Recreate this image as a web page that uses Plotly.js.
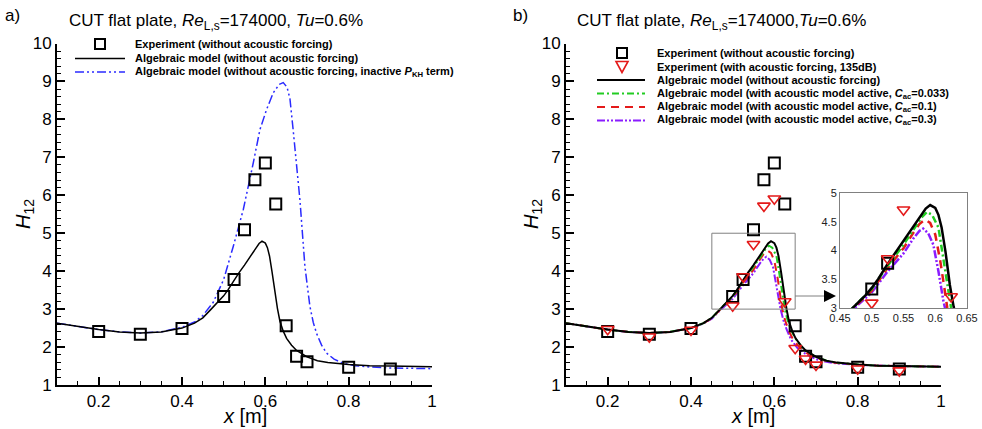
<!DOCTYPE html>
<html>
<head>
<meta charset="utf-8">
<script src="https://cdn.plot.ly/plotly-3.0.1.min.js"></script>
<style>html,body{margin:0;padding:0;background:#fff;}#chart{width:982px;height:429px;}</style>
</head>
<body>
<div id="chart"></div>
<script>
// ---- Experimental data ----
const expX = [0.2, 0.3, 0.4, 0.5, 0.525, 0.55, 0.575, 0.6, 0.625, 0.65, 0.675, 0.7, 0.8, 0.9];
const expNoForcing = [2.41, 2.34, 2.49, 3.33, 3.78, 5.09, 6.41, 6.85, 5.77, 2.56, 1.76, 1.61, 1.47, 1.42];
const expForcing135 = [2.47, 2.27, 2.45, 3.09, 3.86, 4.71, 5.72, 5.91, 3.20, 1.97, 1.69, 1.53, 1.43, 1.38];

// ---- Algebraic model, without acoustic forcing ----
const algX = [0.10, 0.15, 0.20, 0.25, 0.30, 0.35, 0.40, 0.43, 0.45, 0.47, 0.49, 0.50, 0.51, 0.524, 0.537, 0.55, 0.563, 0.576, 0.585, 0.592, 0.600, 0.605, 0.610, 0.616, 0.623, 0.629, 0.635, 0.643, 0.651, 0.663, 0.675, 0.70, 0.725, 0.75, 0.80, 0.85, 0.90, 0.95, 1.00];
const algH = [2.63, 2.54, 2.46, 2.40, 2.37, 2.40, 2.50, 2.63, 2.77, 3.00, 3.22, 3.35, 3.50, 3.75, 3.96, 4.16, 4.37, 4.57, 4.73, 4.79, 4.74, 4.62, 4.40, 3.99, 3.40, 3.02, 2.68, 2.42, 2.23, 2.05, 1.91, 1.74, 1.64, 1.59, 1.54, 1.51, 1.50, 1.49, 1.48];

// ---- Algebraic model, inactive P_KH term ----
const noPkhX = [0.10, 0.15, 0.20, 0.25, 0.30, 0.35, 0.40, 0.43, 0.45, 0.475, 0.50, 0.523, 0.547, 0.571, 0.587, 0.603, 0.619, 0.633, 0.643, 0.652, 0.659, 0.667, 0.675, 0.683, 0.695, 0.707, 0.715, 0.723, 0.735, 0.747, 0.765, 0.787, 0.815, 0.843, 0.90, 1.00];
const noPkhH = [2.63, 2.54, 2.46, 2.40, 2.37, 2.40, 2.52, 2.66, 2.83, 3.18, 3.78, 4.65, 5.62, 6.85, 7.73, 8.26, 8.70, 8.92, 8.97, 8.85, 8.55, 7.70, 6.85, 5.88, 4.12, 3.07, 2.65, 2.36, 2.05, 1.84, 1.68, 1.57, 1.51, 1.48, 1.45, 1.43];

// ---- Algebraic model with acoustic model active ----
const ac033X = [0.10, 0.15, 0.20, 0.25, 0.30, 0.35, 0.40, 0.43, 0.45, 0.47, 0.50, 0.524, 0.55, 0.565, 0.578, 0.587, 0.595, 0.605, 0.613, 0.621, 0.625, 0.632, 0.640, 0.650, 0.663, 0.675, 0.70, 0.725, 0.75, 0.80, 0.85, 0.90, 0.95, 1.00];
const ac033H = [2.63, 2.54, 2.46, 2.40, 2.37, 2.40, 2.50, 2.63, 2.77, 3.00, 3.33, 3.72, 4.10, 4.35, 4.57, 4.67, 4.62, 4.40, 3.87, 3.29, 3.00, 2.70, 2.45, 2.24, 2.04, 1.90, 1.74, 1.64, 1.59, 1.54, 1.51, 1.50, 1.49, 1.48];

const ac01X = [0.10, 0.15, 0.20, 0.25, 0.30, 0.35, 0.40, 0.43, 0.45, 0.47, 0.50, 0.524, 0.55, 0.565, 0.575, 0.584, 0.592, 0.600, 0.608, 0.616, 0.619, 0.626, 0.635, 0.645, 0.660, 0.675, 0.70, 0.725, 0.75, 0.80, 0.85, 0.90, 0.95, 1.00];
const ac01H = [2.63, 2.54, 2.46, 2.40, 2.37, 2.40, 2.50, 2.63, 2.76, 2.99, 3.30, 3.68, 4.04, 4.30, 4.46, 4.54, 4.48, 4.28, 3.81, 3.23, 3.00, 2.70, 2.42, 2.20, 2.00, 1.86, 1.71, 1.63, 1.58, 1.54, 1.51, 1.50, 1.49, 1.48];

const ac03X = [0.10, 0.15, 0.20, 0.25, 0.30, 0.35, 0.40, 0.43, 0.45, 0.47, 0.50, 0.524, 0.55, 0.565, 0.575, 0.581, 0.589, 0.597, 0.605, 0.613, 0.615, 0.622, 0.630, 0.640, 0.655, 0.675, 0.70, 0.725, 0.75, 0.80, 0.85, 0.90, 0.95, 1.00];
const ac03H = [2.63, 2.54, 2.46, 2.40, 2.37, 2.40, 2.50, 2.62, 2.75, 2.97, 3.27, 3.62, 3.95, 4.20, 4.34, 4.38, 4.30, 4.10, 3.64, 3.11, 3.00, 2.70, 2.45, 2.20, 1.98, 1.82, 1.68, 1.61, 1.57, 1.53, 1.51, 1.50, 1.49, 1.48];

// ---- Axis ranges / ticks ----
const xRange = [0.1, 1.0];
const yRange = [1, 10];
const insetX = [0.45, 0.65];
const insetY = [3, 5];

// ---- Styles ----
const FONT = 'Arial, "Liberation Sans", sans-serif';
const C_BLACK = '#000000', C_BLUE = '#2a2aff', C_GREEN = '#22cc22', C_RED = '#e41a1a', C_PURPLE = '#8a1cff';
const D_BLUE = '9px,3px,2px,3px,2px,3px';
const D_GREEN = '7px,3px,2px,3px';
const D_RED = '8px,6px';
const D_PURPLE = '8px,2px,2px,2px,2px,2px';

const W = 982, H = 429;
const px = v => v / W;
const py = v => 1 - v / H;

// keep only the experimental points whose centre lies inside the inset window
function inInset(xs, ys) {
  const ox = [], oy = [];
  xs.forEach((x, i) => {
    if (x >= insetX[0] && x <= insetX[1] && ys[i] >= insetY[0] && ys[i] <= insetY[1]) { ox.push(x); oy.push(ys[i]); }
  });
  return [ox, oy];
}

function line(x, y, color, dash, width, xa, ya) {
  return {x: x, y: y, type: 'scatter', mode: 'lines', xaxis: xa, yaxis: ya, showlegend: false,
          line: {color: color, dash: dash, width: width}, hoverinfo: 'skip'};
}
function sq(xa, ya, inset) {
  const d = inset ? inInset(expX, expNoForcing) : [expX, expNoForcing];
  return {x: d[0], y: d[1], type: 'scatter', mode: 'markers', xaxis: xa, yaxis: ya, showlegend: false,
          marker: {symbol: 'square-open', size: 11, color: C_BLACK, line: {width: 2, color: C_BLACK}}};
}
function tri(xa, ya, inset) {
  const d = inset ? inInset(expX, expForcing135) : [expX, expForcing135];
  return {x: d[0], y: d[1], type: 'scatter', mode: 'markers', xaxis: xa, yaxis: ya, showlegend: false,
          marker: {symbol: 'triangle-down-open', size: 11, color: C_RED, line: {width: 1.6, color: C_RED}}};
}

const traces = [
  // panel a
  line(noPkhX, noPkhH, C_BLUE, D_BLUE, 1.5, 'x', 'y'),
  line(algX, algH, C_BLACK, 'solid', 1.5, 'x', 'y'),
  sq('x', 'y'),
  // panel b
  line(ac03X, ac03H, C_PURPLE, D_PURPLE, 2, 'x2', 'y2'),
  line(ac01X, ac01H, C_RED, D_RED, 2, 'x2', 'y2'),
  line(ac033X, ac033H, C_GREEN, D_GREEN, 2, 'x2', 'y2'),
  line(algX, algH, C_BLACK, 'solid', 2, 'x2', 'y2'),
  sq('x2', 'y2'),
  tri('x2', 'y2'),
  // inset
  line(ac03X, ac03H, C_PURPLE, D_PURPLE, 2.5, 'x3', 'y3'),
  line(ac01X, ac01H, C_RED, D_RED, 2.5, 'x3', 'y3'),
  line(ac033X, ac033H, C_GREEN, D_GREEN, 2.5, 'x3', 'y3'),
  line(algX, algH, C_BLACK, 'solid', 2.5, 'x3', 'y3'),
  sq('x3', 'y3', true),
  tri('x3', 'y3', true)
];

function mainX(domain, anchor) {
  return {domain: domain, anchor: anchor, range: xRange, showgrid: false, zeroline: false,
    showline: true, linecolor: '#000', linewidth: 2, mirror: false,
    ticks: 'inside', ticklen: 8, tickwidth: 2, tickcolor: '#000', tick0: 0.2, dtick: 0.2,
    minor: {ticks: 'inside', ticklen: 4, tickwidth: 1, tickcolor: '#000', dtick: 0.05, tick0: 0.1, showgrid: false},
    tickfont: {family: FONT, size: 17, color: '#000'}};
}
function mainY(domain, anchor) {
  return {domain: domain, anchor: anchor, range: yRange, showgrid: false, zeroline: false,
    showline: true, linecolor: '#000', linewidth: 2, mirror: false,
    ticks: 'inside', ticklen: 8, tickwidth: 2, tickcolor: '#000', tick0: 1, dtick: 1,
    minor: {ticks: 'inside', ticklen: 4, tickwidth: 1, tickcolor: '#000', dtick: 0.2, tick0: 1, showgrid: false},
    tickfont: {family: FONT, size: 17, color: '#000'}};
}

const yDom = [py(385), py(43.5)];
const layout = {
  width: W, height: H,
  margin: {l: 0, r: 0, t: 0, b: 0},
  paper_bgcolor: '#fff', plot_bgcolor: 'rgba(0,0,0,0)',
  showlegend: false,
  font: {family: FONT, color: '#000'},
  xaxis: mainX([px(57), px(432)], 'y'),
  yaxis: mainY(yDom, 'x'),
  xaxis2: mainX([px(566), px(941)], 'y2'),
  yaxis2: mainY(yDom, 'x2'),
  xaxis3: {domain: [px(840), px(967)], anchor: 'y3', range: insetX, showgrid: false, zeroline: false,
    showline: true, mirror: true, linecolor: '#808080', linewidth: 1, ticks: '', dtick: 0.05, tick0: 0.45,
    tickfont: {family: FONT, size: 11, color: '#222'}},
  yaxis3: {domain: [py(308), py(193)], anchor: 'x3', range: insetY, showgrid: false, zeroline: false,
    showline: true, mirror: true, linecolor: '#808080', linewidth: 1, ticks: '', dtick: 0.5, tick0: 3,
    tickfont: {family: FONT, size: 11, color: '#222'}},
  shapes: [],
  annotations: []
};

// zoom rectangle in panel b
layout.shapes.push({type: 'rect', xref: 'x2', yref: 'y2', x0: insetX[0], x1: insetX[1], y0: insetY[0], y1: insetY[1],
  line: {color: '#808080', width: 1}});
// connector line
layout.shapes.push({type: 'line', xref: 'paper', yref: 'paper', x0: px(795), x1: px(824), y0: py(296), y1: py(296),
  line: {color: '#808080', width: 1}});
layout.annotations.push({xref: 'paper', yref: 'paper', x: px(836), y: py(296), ax: -14, ay: 0, showarrow: true,
  arrowhead: 2, arrowsize: 1.6, arrowwidth: 1.5, arrowcolor: '#000', text: ' ', standoff: 0});

// panel labels & titles
function txt(x, y, text, size, opts) {
  return Object.assign({xref: 'paper', yref: 'paper', x: px(x), y: py(y), text: text, showarrow: false,
    xanchor: 'left', yanchor: 'middle', font: {family: FONT, size: size, color: '#000'}}, opts || {});
}
layout.annotations.push(txt(3, 16, 'a)', 17));
layout.annotations.push(txt(511, 16, 'b)', 17));
layout.annotations.push(txt(67, 22, 'CUT flat plate, <i>Re</i><sub>L,s</sub>=174000, <i>Tu</i>=0.6%', 17));
layout.annotations.push(txt(575, 22, 'CUT flat plate, <i>Re</i><sub>L,s</sub>=174000,<i>Tu</i>=0.6%', 17));

// axis titles
layout.annotations.push(txt(245, 416, '<i>x</i> [m]', 20, {xanchor: 'center'}));
layout.annotations.push(txt(753, 416, '<i>x</i> [m]', 20, {xanchor: 'center'}));
layout.annotations.push(txt(24, 214, '<i>H</i><sub>12</sub>', 20, {xanchor: 'center', textangle: -90}));
layout.annotations.push(txt(532, 214, '<i>H</i><sub>12</sub>', 20, {xanchor: 'center', textangle: -90}));

// legends (manual, compact like the original)
function legendText(x, y, text) { return txt(x, y, '<b>' + text + '</b>', 11); }
function legendLine(x0, x1, y, color, dash, width) {
  return {type: 'line', xref: 'paper', yref: 'paper', x0: px(x0), x1: px(x1), y0: py(y), y1: py(y),
    line: {color: color, dash: dash, width: width}};
}
function legendSquare(cx, cy) {
  return {type: 'rect', xref: 'paper', yref: 'paper', x0: px(cx - 5), x1: px(cx + 5), y0: py(cy + 5), y1: py(cy - 5),
    line: {color: '#000', width: 2}};
}
function legendTri(cx, cy) {
  const p = (x, y) => px(x).toFixed(5) + ',' + py(y).toFixed(5);
  return {type: 'path', xref: 'paper', yref: 'paper', path: 'M' + p(cx - 6, cy - 5) + ' L' + p(cx + 6, cy - 5) + ' L' + p(cx, cy + 6) + ' Z',
    line: {color: C_RED, width: 1.6}};
}
// panel a legend
const la = [44, 58.5, 72];
layout.shapes.push(legendSquare(100, la[0]));
layout.shapes.push(legendLine(75, 125, la[1], C_BLACK, 'solid', 1.5));
layout.shapes.push(legendLine(75, 125, la[2], C_BLUE, D_BLUE, 1.5));
layout.annotations.push(legendText(133, la[0], 'Experiment (without acoustic forcing)'));
layout.annotations.push(legendText(133, la[1], 'Algebraic model (without acoustic forcing)'));
layout.annotations.push(legendText(133, la[2], 'Algebraic model (without acoustic forcing, inactive <i>P</i><sub>KH</sub> term)'));
// panel b legend
const lb = [53, 66.5, 80, 93.5, 107, 120.5];
layout.shapes.push(legendSquare(622, lb[0]));
layout.shapes.push(legendTri(622, lb[1]));
layout.shapes.push(legendLine(597, 645, lb[2], C_BLACK, 'solid', 2));
layout.shapes.push(legendLine(597, 645, lb[3], C_GREEN, D_GREEN, 2));
layout.shapes.push(legendLine(597, 645, lb[4], C_RED, D_RED, 2));
layout.shapes.push(legendLine(597, 645, lb[5], C_PURPLE, D_PURPLE, 2));
layout.annotations.push(legendText(655, lb[0], 'Experiment (without acoustic forcing)'));
layout.annotations.push(legendText(655, lb[1], 'Experiment (with acoustic forcing, 135dB)'));
layout.annotations.push(legendText(655, lb[2], 'Algebraic model (without acoustic forcing)'));
layout.annotations.push(legendText(655, lb[3], 'Algebraic model (with acoustic model active, <i>C</i><sub>ac</sub>=0.033)'));
layout.annotations.push(legendText(655, lb[4], 'Algebraic model (with acoustic model active, <i>C</i><sub>ac</sub>=0.1)'));
layout.annotations.push(legendText(655, lb[5], 'Algebraic model (with acoustic model active, <i>C</i><sub>ac</sub>=0.3)'));

Plotly.newPlot('chart', traces, layout, {staticPlot: true, displayModeBar: false});
</script>
</body>
</html>
